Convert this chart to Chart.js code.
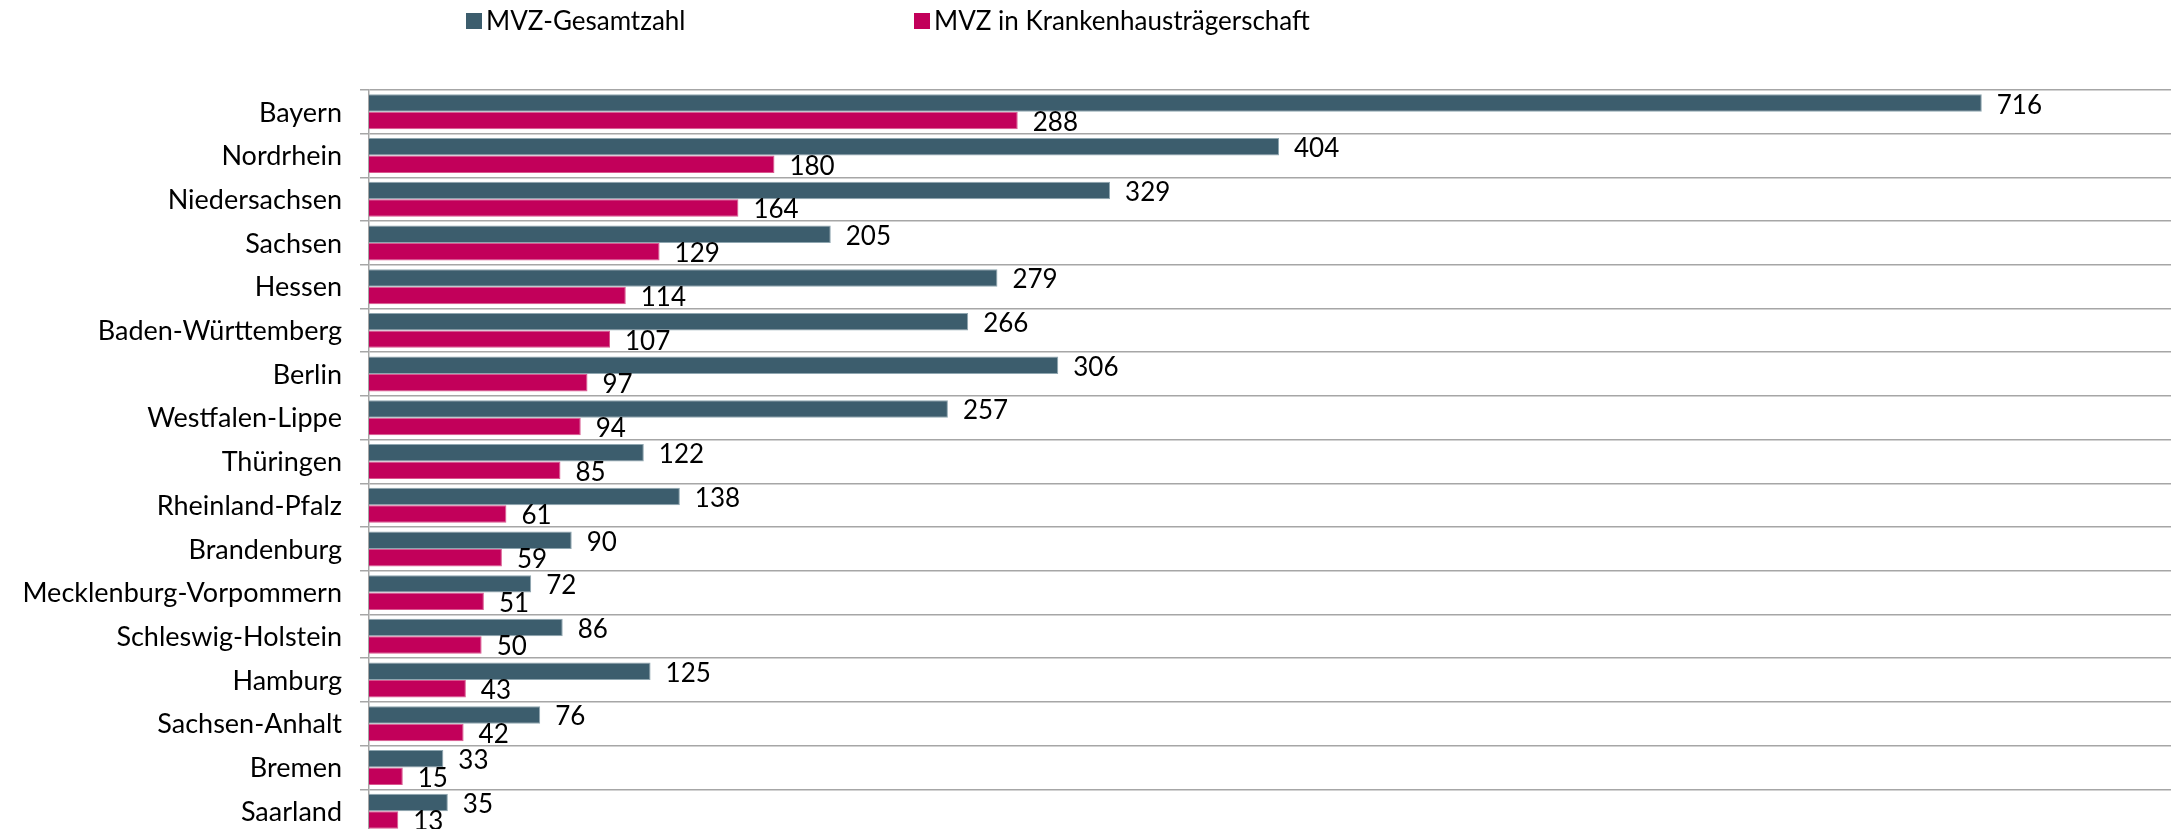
<!DOCTYPE html>
<html lang="de">
<head>
<meta charset="utf-8">
<title>MVZ nach KV-Region</title>
<script src="https://cdn.jsdelivr.net/npm/chart.js@4.4.1/dist/chart.umd.min.js"></script>
<style>
  html, body { margin: 0; padding: 0; background: #ffffff; overflow: hidden; height: 829px; }
  #wrap { position: relative; width: 2174px; height: 829px; overflow: hidden; }
  #chart { display: block; }
</style>
</head>
<body>
<div id="wrap"><canvas id="chart" width="2174" height="833"></canvas></div>
<script>
// KV-Regionen, sortiert nach MVZ in Krankenhausträgerschaft
const regions = [
  'Bayern', 'Nordrhein', 'Niedersachsen', 'Sachsen', 'Hessen',
  'Baden-Württemberg', 'Berlin', 'Westfalen-Lippe', 'Thüringen',
  'Rheinland-Pfalz', 'Brandenburg', 'Mecklenburg-Vorpommern',
  'Schleswig-Holstein', 'Hamburg', 'Sachsen-Anhalt', 'Bremen', 'Saarland'
];
const mvzTotal    = [716, 404, 329, 205, 279, 266, 306, 257, 122, 138, 90, 72, 86, 125, 76, 33, 35];
const mvzHospital = [288, 180, 164, 129, 114, 107, 97, 94, 85, 61, 59, 51, 50, 43, 42, 15, 13];
const seriesNames = ['MVZ-Gesamtzahl', 'MVZ in Krankenhausträgerschaft'];
const seriesColors = ['#3c5d6d', '#c2005a'];
const seriesBorders = ['#8fa6b0', '#d9588f'];
const axisMax = 800;

const FONT_FAMILY = 'Lato, "Open Sans", sans-serif';
const FONT_SIZE = 26;
const TICK_FONT_SIZE = 27;

// Wert rechts neben jedem Balken
const valueLabels = {
  id: 'valueLabels',
  afterDatasetsDraw(chart) {
    const ctx = chart.ctx;
    ctx.save();
    ctx.font = FONT_SIZE + 'px ' + FONT_FAMILY;
    ctx.fillStyle = '#000000';
    ctx.textAlign = 'left';
    ctx.textBaseline = 'middle';
    chart.data.datasets.forEach((ds, i) => {
      const meta = chart.getDatasetMeta(i);
      meta.data.forEach((bar, j) => {
        ctx.fillText(String(ds.data[j]), bar.x + 15, bar.y + 2);
      });
    });
    ctx.restore();
  }
};

// Legende oben, Einträge mit großem Abstand
const topLegend = {
  id: 'topLegend',
  afterDraw(chart) {
    const ctx = chart.ctx;
    const startX = [466, 914];
    const box = 16;
    const cy = 21;
    ctx.save();
    ctx.font = FONT_SIZE + 'px ' + FONT_FAMILY;
    ctx.textBaseline = 'middle';
    ctx.textAlign = 'left';
    chart.data.datasets.forEach((ds, i) => {
      ctx.fillStyle = ds.backgroundColor;
      ctx.fillRect(startX[i], cy - box / 2, box, box);
      ctx.fillStyle = '#000000';
      ctx.fillText(ds.label, startX[i] + box + 4, cy + 1);
    });
    ctx.restore();
  }
};

new Chart(document.getElementById('chart'), {
  type: 'bar',
  data: {
    labels: regions,
    datasets: [
      {
        label: seriesNames[0],
        data: mvzTotal,
        backgroundColor: seriesColors[0],
        borderColor: seriesBorders[0],
        borderWidth: 1,
        categoryPercentage: 0.8,
        barPercentage: 1.0
      },
      {
        label: seriesNames[1],
        data: mvzHospital,
        backgroundColor: seriesColors[1],
        borderColor: seriesBorders[1],
        borderWidth: 1,
        categoryPercentage: 0.8,
        barPercentage: 1.0
      }
    ]
  },
  options: {
    indexAxis: 'y',
    responsive: false,
    devicePixelRatio: 1,
    animation: false,
    layout: { padding: { top: 90, right: 3, bottom: 0, left: 0 } },
    plugins: {
      legend: { display: false },
      tooltip: { enabled: false }
    },
    scales: {
      x: {
        display: false,
        min: 0,
        max: axisMax
      },
      y: {
        afterFit(scale) {
          scale.width = 369;
          scale.paddingTop = 0;
          scale.paddingBottom = 0;
        },
        grid: {
          color: '#a6a6a6',
          lineWidth: 1.5,
          offset: true,
          drawTicks: true,
          tickLength: 9
        },
        border: { display: true, color: '#a6a6a6', width: 1.5 },
        ticks: {
          color: '#000000',
          padding: 18,
          labelOffset: 1,
          font: { family: FONT_FAMILY, size: TICK_FONT_SIZE }
        }
      }
    }
  },
  plugins: [valueLabels, topLegend]
});
</script>
</body>
</html>
